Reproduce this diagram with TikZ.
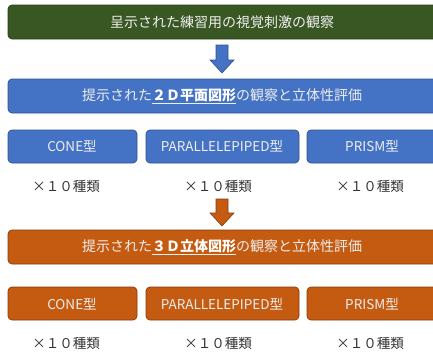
\documentclass[tikz,border=0pt]{standalone}
\usepackage{fontspec}
\setmainfont{Noto Sans CJK JP}
\definecolor{gfill}{HTML}{385723}
\definecolor{gdraw}{HTML}{2A4219}
\definecolor{bfill}{HTML}{4472C4}
\definecolor{bdraw}{HTML}{2F528F}
\definecolor{ofill}{HTML}{C55A11}
\definecolor{odraw}{HTML}{843C0C}
\definecolor{btext}{HTML}{EEEEEE}
\definecolor{ctext}{HTML}{333333}
\begin{document}
\begin{tikzpicture}[x=1pt,y=-1pt,
  box/.style={rounded corners=4pt, line width=0.7pt},
  boxtext/.style={text=btext, font=\fontsize{14}{15}\selectfont, anchor=center, inner sep=0pt},
  smalltext/.style={text=btext, font=\fontsize{13.5}{14}\selectfont, anchor=center, inner sep=0pt},
  count/.style={text=ctext, font=\fontsize{13.5}{14}\selectfont, anchor=center, inner sep=0pt}]
\useasboundingbox (0,0) rectangle (433,356);
\begin{scope}
\clip (0,0) rectangle (433,356);
% top green box
\draw[box, fill=gfill, draw=gdraw] (8,5) rectangle (440,39);
\node[boxtext] (t1) at (222,22) {呈示された練習用の視覚刺激の観察};
% blue arrow
\draw[fill=bfill, draw=bdraw, line width=0.6pt] (216,45) -- (228,45) -- (228,60) -- (234,60) -- (222,73) -- (210,60) -- (216,60) -- cycle;
% blue main box
\draw[box, fill=bfill, draw=bdraw] (8,79) rectangle (440,113);
\node[boxtext] (t2) at (222,96) {提示された\underline{\textbf{\textcolor{white}{２Ｄ平面図形}}}の観察と立体性評価};
% blue sub boxes
\draw[box, fill=bfill, draw=bdraw] (8,130) rectangle (137,163);
\draw[box, fill=bfill, draw=bdraw] (146,130) rectangle (299,163);
\draw[box, fill=bfill, draw=bdraw] (307,130) rectangle (440,163);
\node[smalltext] (b1) at (72,146) {CONE型};
\node[smalltext] (b2) at (222,146) {PARALLELEPIPED型};
\node[smalltext] (b3) at (372,146) {PRISM型};
\node[count] (c1) at (66,186) {×１０種類};
\node[count] (c2) at (218,186) {×１０種類};
\node[count] (c3) at (370,186) {×１０種類};
% orange arrow
\draw[fill=ofill, draw=odraw, line width=0.6pt] (216,199) -- (228,199) -- (228,213) -- (234,213) -- (222,226) -- (210,213) -- (216,213) -- cycle;
% orange main box
\draw[box, fill=ofill, draw=odraw] (8,230) rectangle (440,264);
\node[boxtext] (t3) at (222,247) {提示された\underline{\textbf{\textcolor{white}{３Ｄ立体図形}}}の観察と立体性評価};
% orange sub boxes
\draw[box, fill=ofill, draw=odraw] (8,287) rectangle (137,320);
\draw[box, fill=ofill, draw=odraw] (146,287) rectangle (299,320);
\draw[box, fill=ofill, draw=odraw] (307,287) rectangle (440,320);
\node[smalltext] (o1) at (72,304) {CONE型};
\node[smalltext] (o2) at (222,304) {PARALLELEPIPED型};
\node[smalltext] (o3) at (372,304) {PRISM型};
\node[count] (d1) at (66,343) {×１０種類};
\node[count] (d2) at (218,343) {×１０種類};
\node[count] (d3) at (370,343) {×１０種類};
\end{scope}
\end{tikzpicture}
\end{document}
